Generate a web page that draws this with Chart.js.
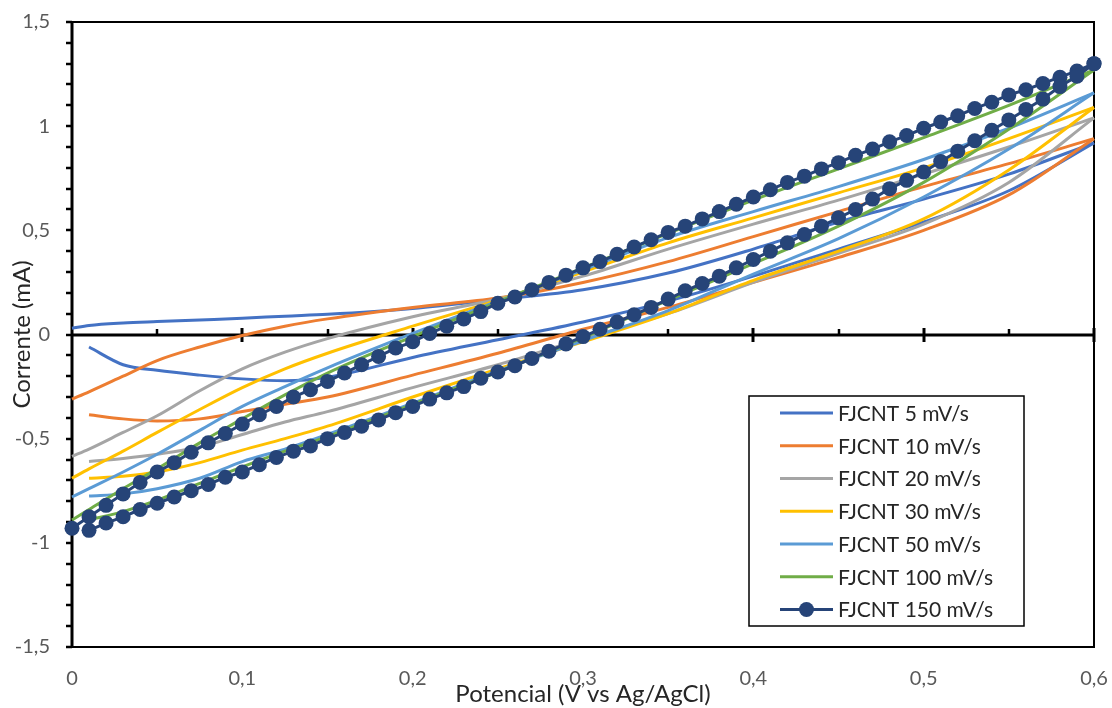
<!DOCTYPE html>
<html><head><meta charset="utf-8">
<script src="https://cdn.jsdelivr.net/npm/chart.js@4/dist/chart.umd.min.js"></script>
<style>html,body{margin:0;padding:0;background:#fff}#wrap{width:1112px;height:708px}</style>
</head><body><div id="wrap"><canvas id="c" width="1112" height="708"></canvas></div>
<script>
// ---- data ----
const LABELS = ['FJCNT 5 mV/s','FJCNT 10 mV/s','FJCNT 20 mV/s','FJCNT 30 mV/s','FJCNT 50 mV/s','FJCNT 100 mV/s','FJCNT 150 mV/s'];
const COLORS = ['#4472C4','#ED7D31','#A5A5A5','#FFC000','#5B9BD5','#70AD47','#264478'];
const X_TICKS = [0,0.1,0.2,0.3,0.4,0.5,0.6];
const Y_TICKS = [-1.5,-1,-0.5,0,0.5,1,1.5];

const X_LINE = [0,0.01,0.03,0.05,0.075,0.1,0.125,0.15,0.2,0.25,0.3,0.35,0.4,0.45,0.5,0.55,0.6];
const UP_5   = [0.03,0.043,0.055,0.062,0.07,0.078,0.088,0.097,0.125,0.168,0.215,0.295,0.41,0.54,0.65,0.77,0.92];
const LO_5   = [null,-0.06,-0.145,-0.172,-0.195,-0.213,-0.222,-0.205,-0.11,-0.025,0.06,0.16,0.28,0.41,0.54,0.69,0.92];
const UP_10  = [-0.31,-0.275,-0.2,-0.125,-0.06,-0.005,0.04,0.075,0.13,0.175,0.25,0.35,0.47,0.59,0.71,0.82,0.94];
const LO_10  = [null,-0.385,-0.405,-0.415,-0.405,-0.37,-0.335,-0.30,-0.195,-0.09,0.025,0.13,0.25,0.37,0.50,0.67,0.94];
const UP_20  = [-0.585,-0.55,-0.47,-0.39,-0.27,-0.165,-0.085,-0.02,0.085,0.17,0.28,0.41,0.53,0.645,0.77,0.90,1.04];
const LO_20  = [null,-0.61,-0.595,-0.575,-0.54,-0.48,-0.42,-0.37,-0.255,-0.145,-0.02,0.10,0.25,0.39,0.53,0.73,1.04];
const UP_30  = [-0.69,-0.645,-0.56,-0.47,-0.36,-0.255,-0.165,-0.09,0.04,0.165,0.30,0.44,0.56,0.68,0.80,0.94,1.09];
const LO_30  = [null,-0.69,-0.68,-0.66,-0.615,-0.555,-0.50,-0.44,-0.30,-0.165,-0.035,0.10,0.26,0.40,0.555,0.79,1.09];
const UP_50  = [-0.78,-0.74,-0.66,-0.575,-0.46,-0.345,-0.25,-0.16,0.005,0.16,0.31,0.465,0.59,0.71,0.84,0.99,1.16];
const LO_50  = [null,-0.775,-0.765,-0.74,-0.69,-0.61,-0.55,-0.48,-0.33,-0.175,-0.03,0.115,0.29,0.46,0.66,0.89,1.16];
const UP_100 = [-0.89,-0.84,-0.74,-0.645,-0.52,-0.405,-0.29,-0.185,-0.01,0.155,0.32,0.485,0.645,0.795,0.945,1.10,1.27];
const LO_100 = [null,-0.89,-0.85,-0.795,-0.715,-0.635,-0.56,-0.49,-0.335,-0.18,-0.015,0.165,0.34,0.52,0.73,0.985,1.27];

const X_150 = [0,0.01,0.02,0.03,0.04,0.05,0.06,0.07,0.08,0.09,0.1,0.11,0.12,0.13,0.14,0.15,0.16,0.17,0.18,0.19,0.2,0.21,0.22,0.23,0.24,0.25,0.26,0.27,0.28,0.29,0.3,0.31,0.32,0.33,0.34,0.35,0.36,0.37,0.38,0.39,0.4,0.41,0.42,0.43,0.44,0.45,0.46,0.47,0.48,0.49,0.5,0.51,0.52,0.53,0.54,0.55,0.56,0.57,0.58,0.59,0.6];
const UP_150 = [-0.93,-0.875,-0.82,-0.765,-0.71,-0.66,-0.615,-0.565,-0.52,-0.475,-0.43,-0.385,-0.345,-0.30,-0.265,-0.225,-0.185,-0.145,-0.105,-0.065,-0.035,0.005,0.04,0.075,0.11,0.15,0.18,0.215,0.25,0.285,0.32,0.35,0.385,0.42,0.455,0.49,0.52,0.555,0.59,0.625,0.66,0.695,0.73,0.76,0.795,0.825,0.86,0.89,0.925,0.955,0.99,1.02,1.05,1.085,1.115,1.15,1.175,1.205,1.235,1.265,1.30];
const LO_150 = [null,-0.94,-0.905,-0.875,-0.84,-0.81,-0.78,-0.75,-0.72,-0.685,-0.66,-0.625,-0.59,-0.56,-0.535,-0.50,-0.47,-0.44,-0.41,-0.375,-0.345,-0.31,-0.28,-0.25,-0.21,-0.18,-0.15,-0.115,-0.08,-0.045,-0.01,0.025,0.06,0.095,0.13,0.17,0.21,0.245,0.28,0.32,0.36,0.40,0.44,0.48,0.52,0.56,0.60,0.65,0.70,0.74,0.78,0.83,0.88,0.93,0.98,1.03,1.08,1.13,1.19,1.24,1.30];

const SERIES = [
  {x: X_LINE, up: UP_5,   lo: LO_5},
  {x: X_LINE, up: UP_10,  lo: LO_10},
  {x: X_LINE, up: UP_20,  lo: LO_20},
  {x: X_LINE, up: UP_30,  lo: LO_30},
  {x: X_LINE, up: UP_50,  lo: LO_50},
  {x: X_LINE, up: UP_100, lo: LO_100},
  {x: X_150,  up: UP_150, lo: LO_150, marker: true}
];

// ---- build ----
const FONT = 'Lato, "Liberation Sans", sans-serif';
function pts(xs, ys){ return xs.map((x,k)=>({x:x, y:ys[k]})).filter(p=>p.y!==null); }
function fmt(v){ return String(Math.round(v*10)/10).replace('.', ','); }

const datasets = [];
SERIES.forEach((s,i)=>{
  ['lo','up'].forEach(b=>{
    datasets.push({
      label: LABELS[i],
      data: pts(s.x, s[b]),
      showLine: true,
      borderColor: COLORS[i],
      backgroundColor: COLORS[i],
      borderWidth: 3,
      pointRadius: s.marker ? 7.5 : 0,
      pointHoverRadius: s.marker ? 7.5 : 0,
      pointBorderWidth: 0,
      pointBackgroundColor: COLORS[i],
      cubicInterpolationMode: s.marker ? 'default' : 'monotone',
      tension: 0,
      clip: false,
      order: SERIES.length - 1 - i
    });
  });
});

const axesPlugin = {
  id: 'axesPlugin',
  beforeDatasetsDraw(chart){
    const {ctx, chartArea: a, scales: {x, y}} = chart;
    ctx.save();
    ctx.strokeStyle = '#000';
    ctx.lineWidth = 2;
    ctx.strokeRect(a.left, a.top, a.right - a.left, a.bottom - a.top);
    ctx.lineWidth = 3;
    ctx.beginPath(); ctx.moveTo(a.left, a.top); ctx.lineTo(a.left, a.bottom); ctx.stroke();
    ctx.lineWidth = 2.5;
    for (let k = -15; k <= 15; k++){
      const py = Math.round(y.getPixelForValue(k/10));
      ctx.beginPath(); ctx.moveTo(a.left - 6, py); ctx.lineTo(a.left, py); ctx.stroke();
    }
    const y0 = Math.round(y.getPixelForValue(0));
    ctx.lineWidth = 3;
    ctx.beginPath(); ctx.moveTo(a.left, y0); ctx.lineTo(a.right, y0); ctx.stroke();
    for (let k = 1; k <= 12; k++){
      const px = Math.round(x.getPixelForValue(k*0.05));
      ctx.beginPath();
      if (k % 2 === 0){ ctx.lineWidth = 3; ctx.moveTo(px, y0 - 7); ctx.lineTo(px, y0 + 7); }
      else { ctx.lineWidth = 2.5; ctx.moveTo(px, y0 - 6); ctx.lineTo(px, y0); }
      ctx.stroke();
    }
    ctx.restore();
  },
  afterDatasetsDraw(chart){
    const ctx = chart.ctx;
    const bx = 749, by = 396, bw = 275, bh = 230;
    ctx.save();
    ctx.fillStyle = '#fff';
    ctx.fillRect(bx, by, bw, bh);
    ctx.strokeStyle = '#000';
    ctx.lineWidth = 1.5;
    ctx.strokeRect(bx, by, bw, bh);
    ctx.font = '21px ' + FONT;
    ctx.textBaseline = 'middle';
    ctx.textAlign = 'left';
    LABELS.forEach((lab, i)=>{
      const ry = 413 + i * 32.75;
      ctx.strokeStyle = COLORS[i];
      ctx.lineWidth = 3;
      ctx.beginPath(); ctx.moveTo(780, ry); ctx.lineTo(833, ry); ctx.stroke();
      if (SERIES[i].marker){
        ctx.fillStyle = COLORS[i];
        ctx.beginPath(); ctx.arc(806.5, ry, 7.5, 0, Math.PI*2); ctx.fill();
      }
      ctx.fillStyle = '#262626';
      ctx.fillText(lab, 838, ry + 1);
    });
    ctx.restore();
  }
};

new Chart(document.getElementById('c'), {
  type: 'scatter',
  data: { datasets },
  plugins: [axesPlugin],
  options: {
    responsive: false,
    animation: false,
    devicePixelRatio: 1,
    layout: { padding: { top: 22, right: 18, left: 0, bottom: 0 } },
    plugins: { legend: { display: false }, tooltip: { enabled: false } },
    scales: {
      x: {
        type: 'linear', min: 0, max: 0.6,
        afterBuildTicks: s => { s.ticks = X_TICKS.map(v => ({value: v})); },
        afterFit: s => { s.height = 61; s.paddingLeft = 0; s.paddingRight = 0; },
        grid: { display: false, drawTicks: false },
        border: { display: false },
        ticks: { padding: 20, color: '#595959', font: { family: FONT, size: 20 }, maxRotation: 0, autoSkip: false, callback: v => fmt(v) },
        title: { display: true, text: 'Potencial (V vs Ag/AgCl)', color: '#262626', font: { family: FONT, size: 24 }, padding: { top: 0, bottom: -1 } }
      },
      y: {
        type: 'linear', min: -1.5, max: 1.5,
        afterBuildTicks: s => { s.ticks = Y_TICKS.map(v => ({value: v})); },
        afterFit: s => { s.width = 72; s.paddingTop = 0; s.paddingBottom = 0; },
        grid: { display: false, drawTicks: false },
        border: { display: false },
        ticks: { padding: 22, color: '#595959', font: { family: FONT, size: 20 }, autoSkip: false, callback: v => fmt(v) },
        title: { display: true, text: 'Corrente (mA)', color: '#262626', font: { family: FONT, size: 24 }, padding: { top: 8, bottom: 0 } }
      }
    }
  }
});
</script></body></html>
